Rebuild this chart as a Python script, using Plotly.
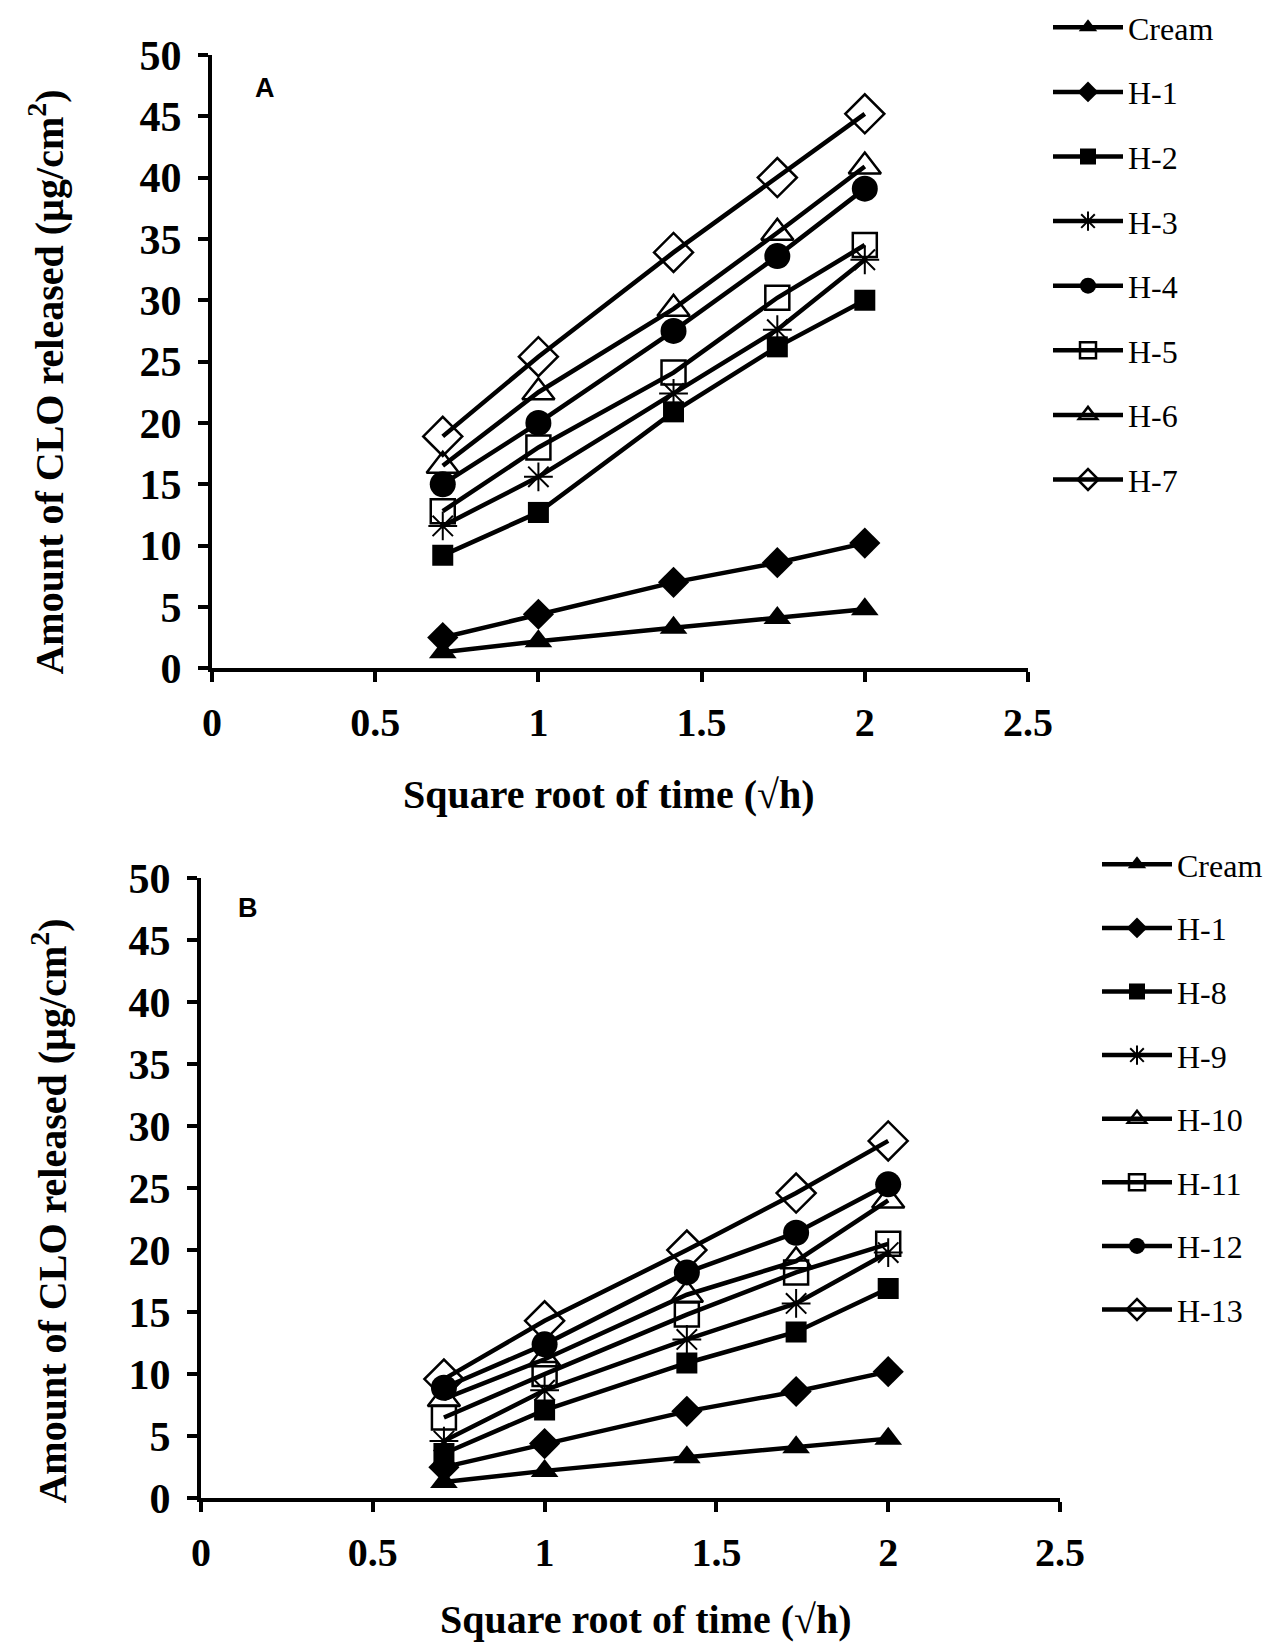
import plotly.graph_objects as go

# sqrt(time) values (x) shared by all series
x_vals = [0.707, 1.0, 1.414, 1.732, 2.0]

# Panel A series
cream = [1.3, 2.2, 3.3, 4.1, 4.8]
h1 = [2.5, 4.4, 7.0, 8.6, 10.2]
h2 = [9.2, 12.7, 20.9, 26.2, 30.0]
h3 = [11.6, 15.6, 22.4, 27.6, 33.3]
h4 = [15.0, 20.0, 27.5, 33.6, 39.1]
h5 = [12.8, 18.0, 24.1, 30.2, 34.5]
h6 = [16.5, 22.5, 29.3, 35.5, 40.9]
h7 = [18.9, 25.4, 33.9, 40.0, 45.2]

# Panel B series
h8 = [3.6, 7.1, 10.9, 13.4, 16.9]
h9 = [4.6, 8.7, 12.8, 15.7, 19.8]
h10 = [8.0, 11.2, 16.4, 19.1, 24.0]
h11 = [6.5, 10.0, 14.8, 18.2, 20.5]
h12 = [8.9, 12.4, 18.2, 21.4, 25.3]
h13 = [9.6, 14.3, 20.0, 24.6, 28.8]

names_a = ["Cream", "H-1", "H-2", "H-3", "H-4", "H-5", "H-6", "H-7"]
series_a = [cream, h1, h2, h3, h4, h5, h6, h7]
names_b = ["Cream", "H-1", "H-8", "H-9", "H-10", "H-11", "H-12", "H-13"]
series_b = [cream, h1, h8, h9, h10, h11, h12, h13]

styles_a = [
    ("triangle-up", 24, 0, 4.5),
    ("diamond", 24, 0, 4.5),
    ("square", 21, 0, 4.5),
    ("asterisk-open", 24, 2, 4.5),
    ("circle", 26, 0, 4.5),
    ("square-open", 24, 2.5, 4.5),
    ("triangle-up-open", 28, 2.5, 4.5),
    ("diamond-open", 30, 2.5, 4.5),
]
styles_b = [
    ("triangle-up", 24, 0, 4.5),
    ("diamond", 24, 0, 4.5),
    ("square", 21, 0, 4.5),
    ("asterisk-open", 24, 2, 4.5),
    ("triangle-up-open", 28, 2.5, 4.5),
    ("square-open", 24, 2.5, 4.5),
    ("circle", 26, 0, 4.5),
    ("diamond-open", 30, 2.5, 4.5),
]

W, H = 1271, 1642
fig = go.Figure()

def add_panel(names, series, styles, xa, ya, legend, grp):
    for i, (n, ys, st) in enumerate(zip(names, series, styles)):
        sym, size, lw, linew = st
        fig.add_trace(go.Scatter(
            x=x_vals, y=ys, name=n, mode="lines+markers",
            xaxis=xa, yaxis=ya, legend=legend,
            legendgroup=f"{grp}{i}",
            line=dict(color="black", width=linew),
            marker=dict(symbol=sym, size=size, color="black",
                        line=dict(color="black", width=lw)),
        ))

add_panel(names_a, series_a, styles_a, "x", "y", "legend", "a")
add_panel(names_b, series_b, styles_b, "x2", "y2", "legend2", "b")

xtickfont = dict(family="Liberation Serif", size=40, color="black", weight="bold")
ytickfont = dict(family="Liberation Serif", size=42, color="black", weight="bold")
axis_common = dict(showline=True, linewidth=4, linecolor="black", ticks="outside",
                   ticklen=10, tickwidth=4, tickcolor="black", showgrid=False,
                   zeroline=False, automargin=False)

def px_x(p):
    return p / W

def px_y(p):
    return 1 - p / H

legend_font = dict(family="Liberation Serif", size=32, color="black")

fig.update_layout(
    width=W, height=H, margin=dict(l=0, r=0, t=0, b=0),
    paper_bgcolor="white", plot_bgcolor="white",
    xaxis=dict(domain=[px_x(212), px_x(1028)], range=[0, 2.5], dtick=0.5,
               anchor="y", tickfont=xtickfont, ticklabelstandoff=6, **axis_common),
    yaxis=dict(domain=[px_y(667), px_y(53)], range=[0, 50], dtick=5,
               anchor="x", tickfont=ytickfont, ticklabelstandoff=8, **axis_common),
    xaxis2=dict(domain=[px_x(201), px_x(1060)], range=[0, 2.5], dtick=0.5,
                anchor="y2", tickfont=xtickfont, ticklabelstandoff=6, **axis_common),
    yaxis2=dict(domain=[px_y(1498), px_y(877)], range=[0, 50], dtick=5,
                anchor="x2", tickfont=ytickfont, ticklabelstandoff=8, **axis_common),
    legend=dict(x=px_x(1048), y=px_y(-2), xanchor="left", yanchor="top",
                traceorder="grouped", tracegroupgap=20, itemwidth=70,
                bgcolor="rgba(0,0,0,0)", font=legend_font),
    legend2=dict(x=px_x(1097), y=px_y(836), xanchor="left", yanchor="top",
                 traceorder="grouped", tracegroupgap=19, itemwidth=70,
                 bgcolor="rgba(0,0,0,0)", font=legend_font),
    showlegend=True,
)

title_font = dict(family="Liberation Serif", size=40, color="black", weight="bold")
ann = [
    dict(text="Square root of time (√h)", x=px_x(609), y=px_y(793), font=title_font),
    dict(text="Square root of time (√h)", x=px_x(646), y=px_y(1619), font=title_font),
    dict(text="Amount of CLO released (µg/cm<sup>2</sup>)", x=px_x(47), y=px_y(381),
         font=title_font, textangle=-90),
    dict(text="Amount of CLO released (µg/cm<sup>2</sup>)", x=px_x(50), y=px_y(1211),
         font=title_font, textangle=-90),
    dict(text="A", x=px_x(265), y=px_y(86),
         font=dict(family="Liberation Sans", size=27, color="black", weight="bold")),
    dict(text="B", x=px_x(248), y=px_y(907),
         font=dict(family="Liberation Sans", size=27, color="black", weight="bold")),
]
for a in ann:
    fig.add_annotation(xref="paper", yref="paper", showarrow=False,
                       xanchor="center", yanchor="middle", **a)

fig.write_html("out.html", config={"displayModeBar": False},
               post_script="document.body.style.margin='0';document.body.style.overflow='hidden';")
